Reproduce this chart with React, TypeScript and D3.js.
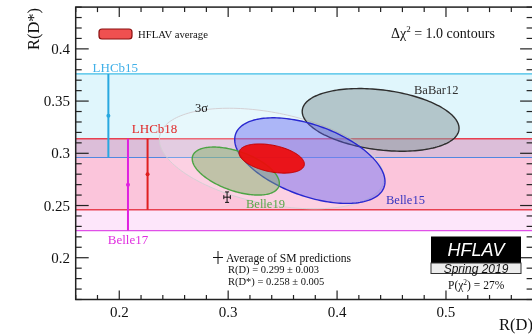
import React from "react";
import * as d3 from "d3";

// Two-dimensional measurements (R(D), R(D*)) with total uncertainties and correlation
const measNames = ["BaBar12", "Belle15", "Belle19"];
const measRD = [0.440, 0.375, 0.307];
const measRDErr = [0.072, 0.069, 0.040];
const measRDs = [0.332, 0.293, 0.283];
const measRDsErr = [0.030, 0.041, 0.023];
const measCorr = [-0.27, -0.49, -0.51];

// World average
const avgRD = 0.340;
const avgRDErr = 0.030;
const avgRDs = 0.295;
const avgRDsErr = 0.014;
const avgCorr = -0.38;

// R(D*)-only measurements, shown as horizontal bands
const bandNames = ["LHCb15", "LHCb18", "Belle17"];
const bandRDs = [0.336, 0.280, 0.270];
const bandErr = [0.040, 0.034, 0.044];
const bandBarAt = [0.19, 0.226, 0.208];

// Standard Model prediction
const smRD = 0.299;
const smRDErr = 0.003;
const smRDs = 0.258;
const smRDsErr = 0.005;

const xTicks = [0.2, 0.3, 0.4, 0.5];
const yTicks = [0.2, 0.25, 0.3, 0.35, 0.4];

const W = 532;
const H = 334;
const x = d3.scaleLinear().domain([0.16, 0.58]).range([75.7, 533.1]);
const y = d3.scaleLinear().domain([0.16, 0.44]).range([299.5, 7.1]);

const SERIF = "'Liberation Serif', 'Times New Roman', serif";
const SANS = "'Liberation Sans', Arial, sans-serif";

// Contour of a correlated 2D gaussian at sqrt(dchi2) = k
function ellipsePath(mx: number, sx: number, my: number, sy: number, rho: number, k: number) {
  const ts = d3.range(0, 2 * Math.PI, Math.PI / 90);
  const s = Math.sqrt(1 - rho * rho);
  const line = d3
    .line<number>()
    .x((t) => x(mx + k * sx * Math.cos(t)))
    .y((t) => y(my + k * sy * (rho * Math.cos(t) + s * Math.sin(t))))
    .curve(d3.curveLinearClosed);
  return line(ts) || "";
}

const measStyle = [
  { fill: "#8e9ea2", op: 0.55, stroke: "#2e2e2e" },
  { fill: "#5a5af0", op: 0.42, stroke: "#2828d0" },
  { fill: "#78b060", op: 0.45, stroke: "#4ca444" },
];

const bandFill = ["#e0f6fc", "#fddbe0", "#fde6fa"];
const barColor = ["#28a8e0", "#e02020", "#e020e0"];
const labelColor = ["#40b0e8", "#e02828", "#e030e0"];

export default function App() {
  const x0 = x.range()[0];
  const x1 = x.range()[1];
  const yb = y.range()[0];
  const yt = y.range()[1];

  const xMinor = d3.range(0.16, 0.581, 0.02);
  const yMinor = d3.range(0.16, 0.441, 0.01);
  const isMajor = (v: number, step: number) => Math.abs(v / step - Math.round(v / step)) < 1e-6;

  // band draw order: cyan first, then Belle17, then LHCb18
  const bandOrder = [0, 2, 1];

  return (
    <svg
      width={W}
      height={H}
      style={{ position: "fixed", left: 0, top: 0, background: "#fff" }}
      fontFamily={SERIF}
    >
      <defs>
        <clipPath id="plot">
          <rect x={x0} y={yt} width={x1 - x0} height={yb - yt} />
        </clipPath>
      </defs>

      <g clipPath="url(#plot)">
        <g style={{ isolation: "isolate" }}>
          {bandOrder.map((i) => (
            <rect
              key={"b" + i}
              x={x0}
              width={x1 - x0}
              y={y(bandRDs[i] + bandErr[i])}
              height={y(bandRDs[i] - bandErr[i]) - y(bandRDs[i] + bandErr[i])}
              fill={bandFill[i]}
              style={{ mixBlendMode: "multiply" }}
            />
          ))}
        </g>
        {/* band edges */}
        <line x1={x0} x2={x1} y1={y(bandRDs[0] + bandErr[0])} y2={y(bandRDs[0] + bandErr[0])} stroke="#3cbce6" strokeWidth={1.2} />
        <line x1={x0} x2={x1} y1={y(bandRDs[0] - bandErr[0])} y2={y(bandRDs[0] - bandErr[0])} stroke="#5088e0" strokeWidth={1.2} />
        <line x1={x0} x2={x1} y1={y(bandRDs[2] - bandErr[2])} y2={y(bandRDs[2] - bandErr[2])} stroke="#e050e8" strokeWidth={1.2} />
        <line x1={x0} x2={x1} y1={y(bandRDs[1] + bandErr[1])} y2={y(bandRDs[1] + bandErr[1])} stroke="#e84050" strokeWidth={1.4} />
        <line x1={x0} x2={x1} y1={y(bandRDs[1] - bandErr[1])} y2={y(bandRDs[1] - bandErr[1])} stroke="#e84050" strokeWidth={1.4} />

        {/* 3 sigma contour of the average */}
        <path
          d={ellipsePath(avgRD, avgRDErr, avgRDs, avgRDsErr, avgCorr, Math.sqrt(11.83))}
          fill="#ffffff"
          fillOpacity={0.22}
          stroke="#d4d0d4"
          strokeWidth={1}
        />

        {measNames.map((n, i) => (
          <path
            key={n}
            d={ellipsePath(measRD[i], measRDErr[i], measRDs[i], measRDsErr[i], measCorr[i], 1)}
            fill={measStyle[i].fill}
            fillOpacity={measStyle[i].op}
            stroke={measStyle[i].stroke}
            strokeWidth={1.4}
          />
        ))}

        <path
          d={ellipsePath(avgRD, avgRDErr, avgRDs, avgRDsErr, avgCorr, 1)}
          fill="#ee0a0a"
          fillOpacity={0.93}
          stroke="#c00000"
          strokeWidth={1}
        />

        {/* R(D*)-only error bars */}
        {bandNames.map((n, i) => (
          <g key={"e" + n}>
            <line
              x1={x(bandBarAt[i])}
              x2={x(bandBarAt[i])}
              y1={y(bandRDs[i] - bandErr[i])}
              y2={y(bandRDs[i] + bandErr[i])}
              stroke={barColor[i]}
              strokeWidth={2}
            />
            <circle cx={x(bandBarAt[i])} cy={y(bandRDs[i])} r={2} fill={barColor[i]} />
          </g>
        ))}

        {/* SM prediction */}
        <g stroke="#111" strokeWidth={1}>
          <line x1={x(smRD - smRDErr)} x2={x(smRD + smRDErr)} y1={y(smRDs)} y2={y(smRDs)} />
          <line x1={x(smRD)} x2={x(smRD)} y1={y(smRDs - smRDsErr)} y2={y(smRDs + smRDsErr)} />
          <line x1={x(smRD - smRDErr)} x2={x(smRD - smRDErr)} y1={y(smRDs) - 2} y2={y(smRDs) + 2} />
          <line x1={x(smRD + smRDErr)} x2={x(smRD + smRDErr)} y1={y(smRDs) - 2} y2={y(smRDs) + 2} />
          <line x1={x(smRD) - 2} x2={x(smRD) + 2} y1={y(smRDs - smRDsErr)} y2={y(smRDs - smRDsErr)} />
          <line x1={x(smRD) - 2} x2={x(smRD) + 2} y1={y(smRDs + smRDsErr)} y2={y(smRDs + smRDsErr)} />
        </g>
      </g>

      {/* frame */}
      <rect x={x0} y={yt} width={x1 - x0} height={yb - yt} fill="none" stroke="#222" strokeWidth={1.5} />
      {xMinor.map((v, i) => {
        const M = isMajor(v, 0.1);
        return (
          <g key={"xt" + i} stroke="#222" strokeWidth={1.2}>
            <line x1={x(v)} x2={x(v)} y1={yb} y2={yb - (M ? 9 : 4.5)} />
            <line x1={x(v)} x2={x(v)} y1={yt} y2={yt + (M ? 10 : 5)} />
          </g>
        );
      })}
      {yMinor.map((v, i) => {
        const M = isMajor(v, 0.05);
        return (
          <g key={"yt" + i} stroke="#222" strokeWidth={1.2}>
            <line x1={x0} x2={x0 + (M ? 13 : 6)} y1={y(v)} y2={y(v)} />
            <line x1={x1} x2={x1 - (M ? 13 : 6.5)} y1={y(v)} y2={y(v)} />
          </g>
        );
      })}

      {xTicks.map((v) => (
        <text key={"xl" + v} x={x(v)} y={317} fontSize={15} textAnchor="middle" fill="#111">
          {d3.format(".1f")(v)}
        </text>
      ))}
      {yTicks.map((v) => (
        <text key={"yl" + v} x={70} y={y(v) + 5} fontSize={15} textAnchor="end" fill="#111">
          {String(+v.toFixed(2))}
        </text>
      ))}

      <text transform="translate(39,29) rotate(-90)" fontSize={16.5} textAnchor="middle" fill="#111">
        R(D*)
      </text>
      <text x={499} y={330} fontSize={16.5} fill="#111">
        R(D)
      </text>

      {/* band labels */}
      <text x={x(bandBarAt[0]) + 7} y={72} fontSize={13} textAnchor="middle" fill={labelColor[0]}>
        {bandNames[0]}
      </text>
      <text x={x(bandBarAt[1]) + 7} y={133} fontSize={13} textAnchor="middle" fill={labelColor[1]}>
        {bandNames[1]}
      </text>
      <text x={x(bandBarAt[2])} y={244} fontSize={13} textAnchor="middle" fill={labelColor[2]}>
        {bandNames[2]}
      </text>

      {/* ellipse labels */}
      <text x={414} y={94} fontSize={12.5} fill="#303030">{measNames[0]}</text>
      <text x={386} y={204} fontSize={12.5} fill="#3434c0">{measNames[1]}</text>
      <text x={246} y={208} fontSize={12.5} fill="#58a848">{measNames[2]}</text>
      <text x={195} y={112} fontSize={12.5} fill="#111">3σ</text>

      {/* legend */}
      <rect x={99} y={29} width={33} height={10} rx={3} fill="#f05050" stroke="#8a1010" strokeWidth={1.2} />
      <text x={138} y={38} fontSize={10.7} fill="#111">HFLAV average</text>

      <text x={391} y={38} fontSize={14} fill="#111">
        Δχ<tspan dy={-6} fontSize={9}>2</tspan>
        <tspan dy={6}> = 1.0 contours</tspan>
      </text>

      <g stroke="#111" strokeWidth={1}>
        <line x1={213} x2={223} y1={257.5} y2={257.5} />
        <line x1={218} x2={218} y1={251} y2={264} />
      </g>
      <text x={226} y={262} fontSize={11.6} fill="#111">Average of SM predictions</text>
      <text x={228} y={273} fontSize={10.5} fill="#111">
        R(D) = {smRD.toFixed(3)} ± {smRDErr.toFixed(3)}
      </text>
      <text x={228} y={285} fontSize={10.5} fill="#111">
        R(D*) = {smRDs.toFixed(3)} ± {smRDsErr.toFixed(3)}
      </text>

      {/* HFLAV badge */}
      <rect x={431} y={236.5} width={90} height={26.5} fill="#000" />
      <text x={476} y={256} fontSize={18} fontStyle="italic" fontFamily={SANS} textAnchor="middle" fill="#fff">
        HFLAV
      </text>
      <rect x={431} y={263} width={90} height={10.5} fill="#ececec" stroke="#333" strokeWidth={1} />
      <text x={476} y={272.5} fontSize={12} fontStyle="italic" fontFamily={SANS} textAnchor="middle" fill="#111">
        Spring 2019
      </text>
      <text x={448} y={289} fontSize={11.5} fill="#111">
        P(χ<tspan dy={-4} fontSize={7.5}>2</tspan>
        <tspan dy={4}>) = 27%</tspan>
      </text>
    </svg>
  );
}
